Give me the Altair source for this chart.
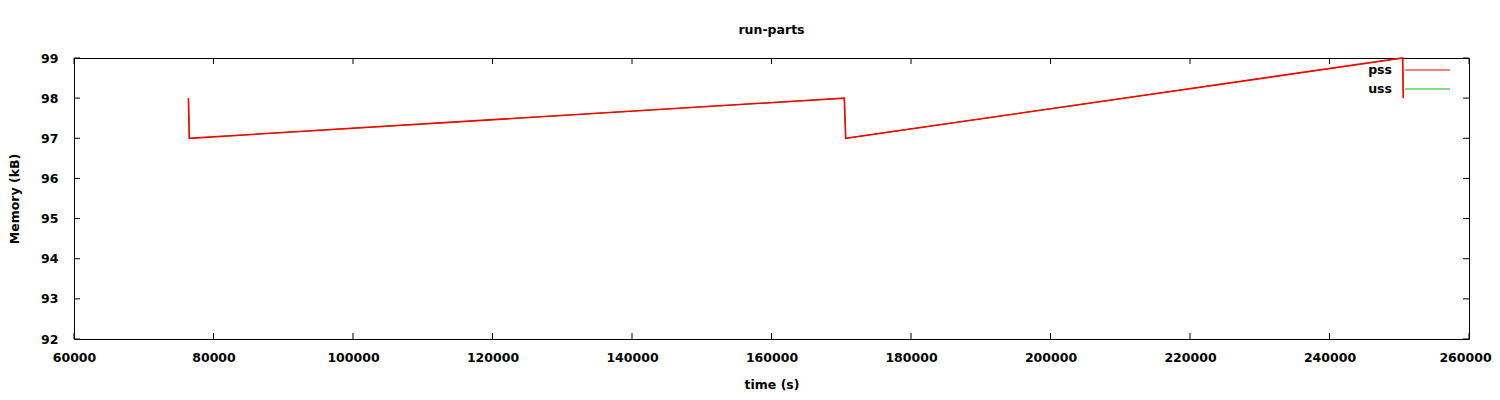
import altair as alt
import pandas as pd

# Data
time_s = [76410, 76530, 170440, 170640, 250490, 250580]
pss_kb = [98, 97, 98, 97, 99, 98]
uss_kb = [98, 97, 98, 97, 99, 98]

x_ticks = [60000, 80000, 100000, 120000, 140000, 160000, 180000, 200000, 220000, 240000, 260000]
y_ticks = [92, 93, 94, 95, 96, 97, 98, 99]

W, H = 1395, 281
FONT = "DejaVu Sans"
FS = 12.5

uss_df = pd.DataFrame({"time": time_s, "mem": uss_kb})
pss_df = pd.DataFrame({"time": time_s, "mem": pss_kb})

xscale = alt.Scale(domain=[60000, 260000], nice=False, zero=False)
yscale = alt.Scale(domain=[92, 99], nice=False, zero=False)

xaxis = alt.Axis(title="time (s)", values=x_ticks, format="d", grid=False,
                 ticks=False, domain=False, labelPadding=12, titlePadding=15,
                 labelFont=FONT, labelFontSize=FS, labelFontWeight="bold",
                 titleFont=FONT, titleFontSize=FS, titleFontWeight="bold",
                 labelColor="black", titleColor="black",
                 labelOffset={"condition": {"test": "datum.value == 260000", "value": -4}, "value": 0},
                 labelFlush=False, labelOverlap=False)
yaxis = alt.Axis(title="Memory (kB)", values=y_ticks, format="d", grid=False,
                 ticks=False, domain=False, labelPadding=16, titlePadding=19,
                 labelFont=FONT, labelFontSize=FS, labelFontWeight="bold",
                 titleFont=FONT, titleFontSize=FS, titleFontWeight="bold",
                 labelColor="black", titleColor="black",
                 labelFlush=False, labelOverlap=False)

uss_line = alt.Chart(uss_df).mark_line(strokeWidth=1, color="#00c000").encode(
    x=alt.X("time:Q", scale=xscale, axis=xaxis),
    y=alt.Y("mem:Q", scale=yscale, axis=yaxis),
)
pss_line = alt.Chart(pss_df).mark_line(strokeWidth=1.6, color="#ff0000").encode(
    x=alt.X("time:Q", scale=xscale),
    y=alt.Y("mem:Q", scale=yscale),
)

# inward ticks (gnuplot style, mirrored)
ydf = pd.DataFrame({"v": y_ticks})
xdf = pd.DataFrame({"v": x_ticks})
yt_left = alt.Chart(ydf).mark_rule(color="black", strokeWidth=1).encode(
    y=alt.Y("v:Q", scale=yscale), x=alt.value(0), x2=alt.value(6))
yt_right = alt.Chart(ydf).mark_rule(color="black", strokeWidth=1).encode(
    y=alt.Y("v:Q", scale=yscale), x=alt.value(W), x2=alt.value(W - 6))
xt_bottom = alt.Chart(xdf).mark_rule(color="black", strokeWidth=1).encode(
    x=alt.X("v:Q", scale=xscale), y=alt.value(H), y2=alt.value(H - 6))
xt_top = alt.Chart(xdf).mark_rule(color="black", strokeWidth=1).encode(
    x=alt.X("v:Q", scale=xscale), y=alt.value(0), y2=alt.value(6))

# key (gnuplot-like: label left, line sample right)
key_df = pd.DataFrame({"series": ["pss", "uss"], "color": ["#ff0000", "#00c000"], "ypix": [12, 31]})
key_text = alt.Chart(key_df).mark_text(align="right", baseline="middle", font=FONT,
                                        fontSize=FS, fontWeight="bold", color="black").encode(
    text="series:N", x=alt.value(1318), y=alt.Y("ypix:Q", scale=None))
key_line = alt.Chart(key_df).mark_rule(strokeWidth=1).encode(
    x=alt.value(1331), x2=alt.value(1376), y=alt.Y("ypix:Q", scale=None),
    color=alt.Color("color:N", scale=None))

chart = alt.layer(uss_line, pss_line, yt_left, yt_right, xt_bottom, xt_top, key_text, key_line).properties(
    width=W, height=H,
    title=alt.TitleParams("run-parts", font=FONT, fontSize=FS, fontWeight="bold",
                          color="black", anchor="middle", offset=16),
    autosize=alt.AutoSizeParams(type="none"),
    padding={"left": 66, "top": 50, "right": 23, "bottom": 56},
).configure(background="white", view=alt.ViewConfig(stroke="black", strokeWidth=1))

chart.save("out.html", embed_options={"renderer": "svg", "actions": False})
